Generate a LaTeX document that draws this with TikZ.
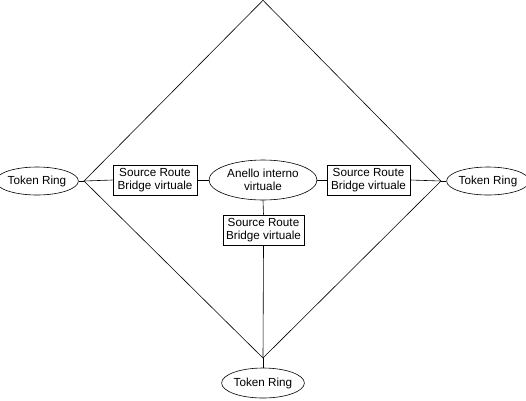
\documentclass[tikz,border=0pt]{standalone}
\usepackage{fontspec}
\setmainfont{Liberation Sans}
\usetikzlibrary{shapes.geometric}
\begin{document}
\begin{tikzpicture}[x=1pt,y=-1pt,
  every path/.style={line width=0.6pt},
  ring/.style={draw,ellipse,inner sep=0pt,font=\fontsize{11.7}{13}\selectfont,align=center},
  bridge/.style={draw,rectangle,inner sep=0pt,minimum width=84pt,minimum height=30pt,font=\fontsize{11.7}{13}\selectfont,align=center}]
\useasboundingbox (0,0) rectangle (526,400);
\coordinate (T) at (263,0.3);
\coordinate (L) at (84,181);
\coordinate (R) at (441,181);
\coordinate (B) at (263,358);
\node[ring,minimum width=74pt,minimum height=28pt] (rl) at (37,181) {Token Ring};
\node[ring,minimum width=72pt,minimum height=28pt] (rr) at (488,181) {Token Ring};
\node[ring,minimum width=76pt,minimum height=30pt] (rb) at (263,383) {Token Ring};
\node[ring,minimum width=108pt,minimum height=40pt] (ai) at (263,180) {Anello interno\\virtuale};
\node[bridge] (bl) at (155,180) {Source Route\\Bridge virtuale};
\node[bridge,minimum width=83pt] (br) at (368.5,180) {Source Route\\Bridge virtuale};
\node[bridge,minimum width=81pt] (bb) at (263.5,230) {Source Route\\Bridge virtuale};
\draw (T) -- (L) -- (B) -- (R) -- cycle;
\draw (rl.east) -- (L);
\draw (L) -- (bl.west);
\draw (bl.east) -- (ai.west);
\draw (ai.east) -- (br.west);
\draw (br.east) -- (R);
\draw (R) -- (rr.west);
\draw (ai.south) -- (bb.north);
\draw (bb.south) -- (B);
\draw (B) -- (rb.north);
\end{tikzpicture}
\end{document}
